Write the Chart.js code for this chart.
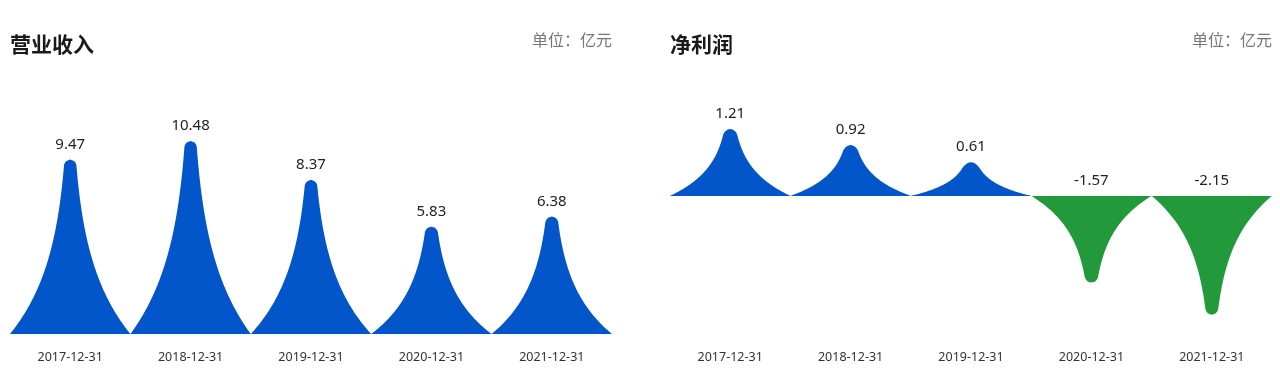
<!doctype html>
<html lang="zh">
<head>
<meta charset="utf-8">
<script src="https://cdn.jsdelivr.net/npm/chart.js@4/dist/chart.umd.min.js"></script>
<style>
  body { margin: 0; background: #fff; font-family: "Microsoft YaHei", "Noto Sans CJK SC", sans-serif; }
  .panel { position: absolute; top: 0; width: 620px; height: 386px; }
  .title { position: absolute; left: 10px; top: 29px; font-size: 21px; font-weight: bold; color: #1a1a1a; line-height: 28px; }
  .unit { position: absolute; right: 8px; top: 29px; font-size: 16px; color: #777; line-height: 20px; }
  canvas { position: absolute; left: 0; top: 0; }
</style>
</head>
<body>
  <div class="panel" style="left:0">
    <canvas id="revChart" width="620" height="386"></canvas>
    <div class="title">营业收入</div>
    <div class="unit">单位：亿元</div>
  </div>
  <div class="panel" style="left:660px">
    <canvas id="profitChart" width="620" height="386"></canvas>
    <div class="title">净利润</div>
    <div class="unit">单位：亿元</div>
  </div>

<script>
  // data
  let years = ["2017-12-31", "2018-12-31", "2019-12-31", "2020-12-31", "2021-12-31"];
  let revenue = [9.47, 10.48, 8.37, 5.83, 6.38];
  let netProfit = [1.21, 0.92, 0.61, -1.57, -2.15];

  const BLUE = "#0256ca";
  const GREEN = "#22993a";
  const NUM_FONT = '"Noto Sans", "Noto Sans CJK SC", sans-serif';

  // half width of the spike (0..1 of half the bar) at relative depth s (0 = tip, 1 = base),
  // d = distance from the tip in px, used to round off the tip
  function spikeWidth(s, d) {
    const k = Math.min(d / 6, 1);
    return Math.exp(2.35 * (s - 1)) * Math.sqrt(1 - (1 - k) * (1 - k));
  }

  const spikePlugin = {
    id: "spike",
    afterDatasetsDraw(chart) {
      const ctx = chart.ctx;
      const meta = chart.getDatasetMeta(0);
      const vals = chart.data.datasets[0].data;
      meta.data.forEach((bar, i) => {
        const half = bar.width / 2;
        const tip = bar.y, base = bar.base;
        const h = Math.abs(base - tip);
        const steps = 120;
        ctx.save();
        ctx.fillStyle = vals[i] < 0 ? GREEN : BLUE;
        ctx.beginPath();
        ctx.moveTo(bar.x - half, base);
        ctx.lineTo(bar.x + half, base);
        for (let j = steps; j >= 0; j--) {
          const s = j / steps;
          ctx.lineTo(bar.x + half * spikeWidth(s, s * h), tip + s * (base - tip));
        }
        for (let j = 0; j <= steps; j++) {
          const s = j / steps;
          ctx.lineTo(bar.x - half * spikeWidth(s, s * h), tip + s * (base - tip));
        }
        ctx.closePath();
        ctx.fill();

        // value label above the shape
        ctx.fillStyle = "#222";
        ctx.font = "15px " + NUM_FONT;
        ctx.textAlign = "center";
        ctx.textBaseline = "middle";
        ctx.fillText(String(vals[i]), bar.x, Math.min(tip, base) - 15);
        ctx.restore();
      });
    }
  };

  function makeChart(id, values, yMin, yMax) {
    return new Chart(document.getElementById(id), {
      type: "bar",
      data: {
        labels: years,
        datasets: [{
          data: values,
          backgroundColor: "rgba(0,0,0,0)",
          barPercentage: 1,
          categoryPercentage: 1
        }]
      },
      options: {
        responsive: false,
        animation: false,
        layout: { padding: { top: 113, left: 10, right: 8, bottom: 13 } },
        plugins: { legend: { display: false }, tooltip: { enabled: false } },
        scales: {
          x: {
            grid: { display: false },
            border: { display: false },
            ticks: { color: "#333", font: { size: 12.5, family: NUM_FONT }, padding: 8 }
          },
          y: { display: false, min: yMin, max: yMax }
        }
      },
      plugins: [spikePlugin]
    });
  }

  makeChart("revChart", revenue, 0, 12);
  makeChart("profitChart", netProfit, -2.5, 1.5);
</script>
</body>
</html>
